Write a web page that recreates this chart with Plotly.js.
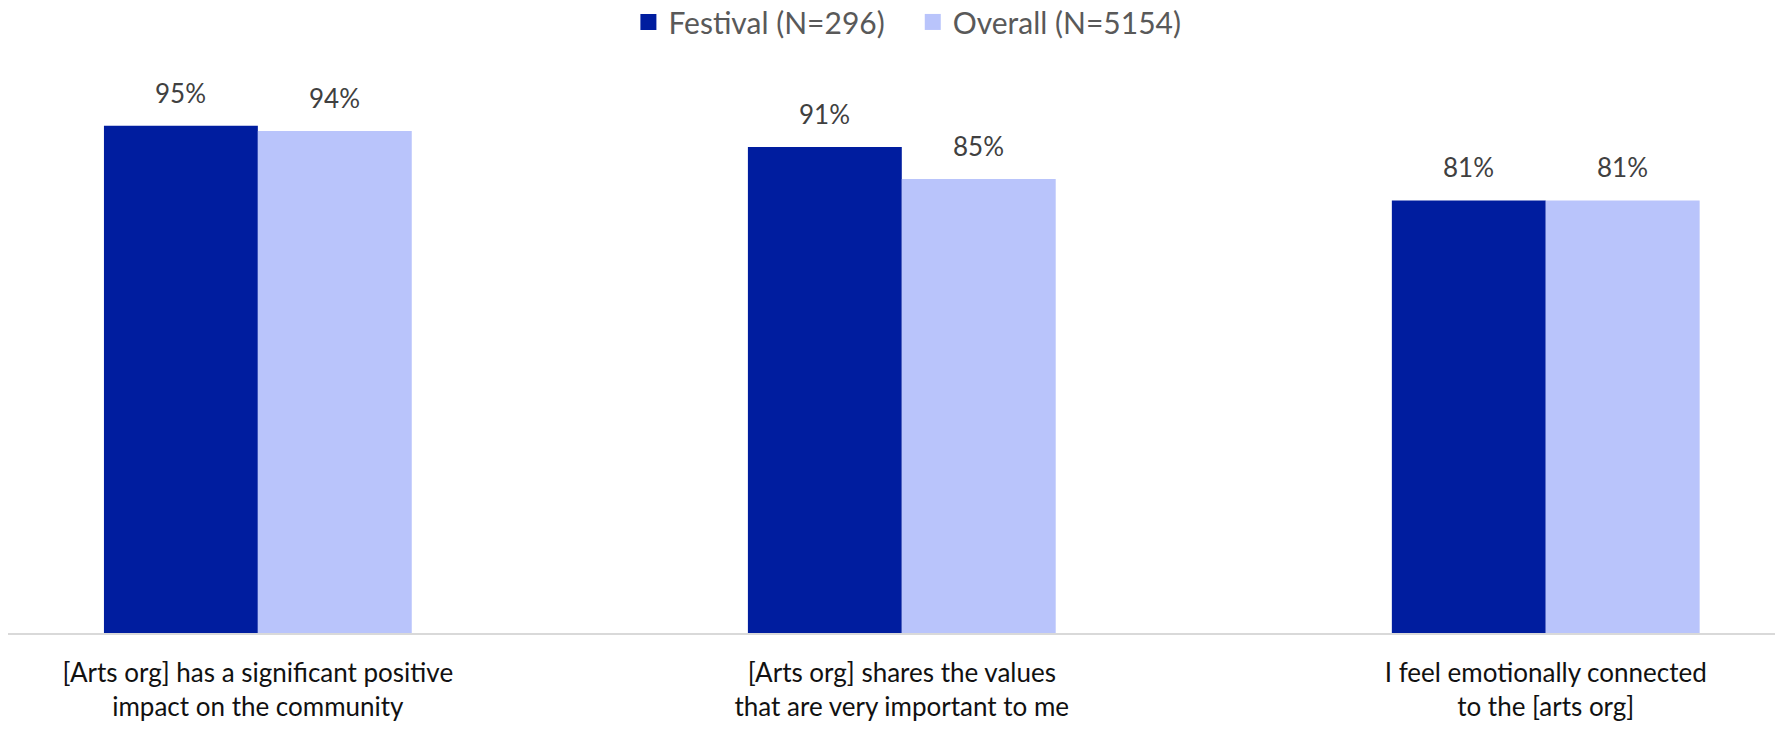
<!DOCTYPE html>
<html>
<head>
<meta charset="utf-8">
<script src="https://cdn.plot.ly/plotly-3.0.1.min.js"></script>
<style>html,body{margin:0;padding:0;background:#fff;}#chart{width:1775px;height:735px;}</style>
</head>
<body>
<div id="chart"></div>
<script>
const categories = [
  "[Arts org] has a significant positive<br>impact on the community",
  "[Arts org] shares the values<br>that are very important to me",
  "I feel emotionally connected<br>to the [arts org]"
];
const festivalValues = [95, 91, 81];
const overallValues = [94, 85, 81];
const seriesNames = ["Festival (N=296)", "Overall (N=5154)"];
const valueLabelsFestival = ["95%", "91%", "81%"];
const valueLabelsOverall = ["94%", "85%", "81%"];

const BARGAP = 0.522;
const colors = ["#001D9F", "#B9C4FB"];
const FONT = "Lato, 'Open Sans', sans-serif";

const traces = [
  {type: "bar", name: seriesNames[0], x: categories, y: festivalValues, marker: {color: colors[0]}, hoverinfo: "none", showlegend: false},
  {type: "bar", name: seriesNames[1], x: categories, y: overallValues, marker: {color: colors[1]}, hoverinfo: "none", showlegend: false},
  {type: "scatter", mode: "markers", name: seriesNames[0] + "   ", x: [null], y: [null],
    marker: {symbol: "square", size: 22, color: colors[0]}, showlegend: true, hoverinfo: "none"},
  {type: "scatter", mode: "markers", name: seriesNames[1], x: [null], y: [null],
    marker: {symbol: "square", size: 22, color: colors[1]}, showlegend: true, hoverinfo: "none"}
];

const half = (1 - BARGAP) / 4;
const annotations = [];
categories.forEach((c, i) => {
  annotations.push({x: i - half, y: festivalValues[i], xref: "x", yref: "y", text: valueLabelsFestival[i],
    showarrow: false, yanchor: "bottom", yshift: 15, font: {family: FONT, size: 26, color: "#404040"}});
  annotations.push({x: i + half, y: overallValues[i], xref: "x", yref: "y", text: valueLabelsOverall[i],
    showarrow: false, yanchor: "bottom", yshift: 15, font: {family: FONT, size: 26, color: "#404040"}});
});

const layout = {
  width: 1775, height: 735,
  margin: {l: 8, r: 0, t: 99, b: 102, autoexpand: false},
  paper_bgcolor: "#fff", plot_bgcolor: "#fff",
  barmode: "group", bargap: BARGAP, bargroupgap: 0,
  font: {family: FONT},
  showlegend: true,
  legend: {orientation: "h", x: 0.509, xanchor: "center", y: 1.193, yanchor: "top",
    font: {family: FONT, size: 30, color: "#595959"}, itemclick: false, tracegroupgap: 0, itemwidth: 30},
  xaxis: {type: "category", range: [-0.388, 2.356], showgrid: false, zeroline: false, automargin: false,
    showline: true, linecolor: "#D9D9D9", linewidth: 2,
    ticks: "outside", ticklen: 16, tickcolor: "rgba(0,0,0,0)",
    tickfont: {family: FONT, size: 26, color: "#111111"}, fixedrange: true},
  yaxis: {range: [0, 100], visible: false, fixedrange: true},
  annotations: annotations
};

Plotly.newPlot("chart", traces, layout, {displayModeBar: false, staticPlot: true});
</script>
</body>
</html>
